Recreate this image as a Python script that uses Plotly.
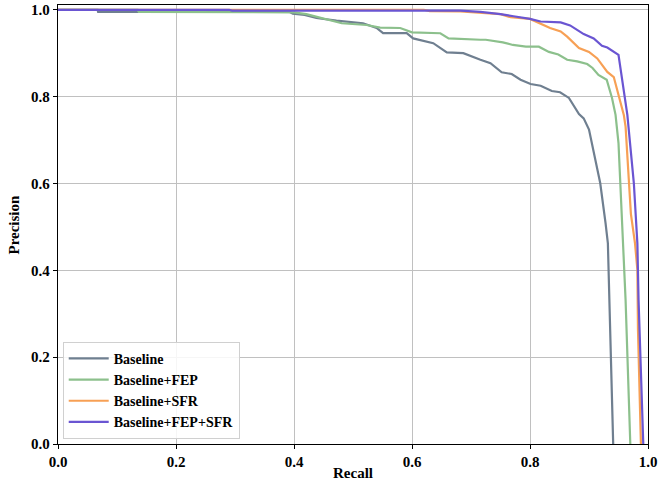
import plotly.graph_objects as go

# ---- data ----
names = ["Baseline", "Baseline+FEP", "Baseline+SFR", "Baseline+FEP+SFR"]
colors = ["#6f7f90", "#8cc08c", "#f7a055", "#6a55d2"]

base_recall = [0.0, 0.067, 0.068, 0.393, 0.398, 0.418, 0.438, 0.472, 0.517, 0.540, 0.551, 0.591,
               0.602, 0.636, 0.659, 0.687, 0.716, 0.733, 0.752, 0.769, 0.784, 0.801, 0.818,
               0.837, 0.851, 0.866, 0.883, 0.891, 0.900, 0.908, 0.919, 0.928, 0.932, 0.941]
base_prec = [1.0, 1.0, 0.995, 0.995, 0.991, 0.988, 0.981, 0.975, 0.969, 0.958, 0.946, 0.946,
             0.934, 0.923, 0.902, 0.900, 0.885, 0.877, 0.856, 0.852, 0.839, 0.829, 0.825,
             0.813, 0.810, 0.797, 0.760, 0.750, 0.724, 0.670, 0.601, 0.509, 0.462, 0.0]

fep_recall = [0.0, 0.135, 0.137, 0.400, 0.421, 0.449, 0.481, 0.523, 0.546, 0.580, 0.600, 0.648,
              0.662, 0.716, 0.725, 0.754, 0.771, 0.793, 0.815, 0.832, 0.848, 0.863, 0.880,
              0.897, 0.906, 0.916, 0.930, 0.939, 0.945, 0.950, 0.953, 0.958, 0.962, 0.970]
fep_prec = [1.0, 1.0, 0.995, 0.994, 0.990, 0.981, 0.969, 0.965, 0.959, 0.958, 0.948, 0.946,
            0.934, 0.931, 0.931, 0.925, 0.919, 0.915, 0.915, 0.903, 0.897, 0.885, 0.881,
            0.875, 0.866, 0.850, 0.839, 0.797, 0.758, 0.693, 0.601, 0.447, 0.332, 0.0]

sfr_recall = [0.0, 0.620, 0.630, 0.682, 0.750, 0.767, 0.800, 0.815, 0.834, 0.852, 0.863, 0.883,
              0.900, 0.914, 0.931, 0.942, 0.950, 0.959, 0.962, 0.967, 0.971, 0.978, 0.982,
              0.983, 0.988]
sfr_prec = [1.0, 1.0, 0.997, 0.996, 0.990, 0.983, 0.979, 0.969, 0.958, 0.950, 0.938, 0.912,
            0.903, 0.888, 0.857, 0.845, 0.803, 0.758, 0.731, 0.601, 0.530, 0.462, 0.401,
            0.263, 0.0]

fs_recall = [0.0, 0.290, 0.295, 0.682, 0.716, 0.750, 0.772, 0.800, 0.818, 0.852, 0.868, 0.891,
             0.908, 0.922, 0.931, 0.950, 0.965, 0.970, 0.976, 0.982, 0.984, 0.992]
fs_prec = [1.0, 1.0, 0.998, 0.998, 0.995, 0.990, 0.985, 0.979, 0.973, 0.971, 0.964, 0.944,
           0.934, 0.917, 0.913, 0.896, 0.758, 0.693, 0.601, 0.462, 0.332, 0.0]

x_ticks = [0.0, 0.2, 0.4, 0.6, 0.8, 1.0]
y_ticks = [0.0, 0.2, 0.4, 0.6, 0.8, 1.0]
tick_text = ["0.0", "0.2", "0.4", "0.6", "0.8", "1.0"]
x_title = "Recall"
y_title = "Precision"

series = [(base_recall, base_prec), (fep_recall, fep_prec), (sfr_recall, sfr_prec), (fs_recall, fs_prec)]

FONT = "Liberation Serif"
bold_font = dict(family=FONT, size=15, color="black", weight="bold")

fig = go.Figure()
for (rx, py), name, col in zip(series, names, colors):
    fig.add_trace(go.Scatter(x=rx, y=py, mode="lines", name=name,
                             line=dict(color=col, width=2.2)))

axis_common = dict(
    showgrid=True, gridcolor="#c0c0c0", gridwidth=1.3,
    showline=True, linecolor="black", linewidth=1.3, mirror=True,
    ticks="outside", ticklen=4, tickcolor="black", tickwidth=1.2,
    zeroline=False, automargin=False,
    tickfont=bold_font,
)

fig.update_xaxes(range=[0, 1], tickvals=x_ticks, ticktext=tick_text, **axis_common)
fig.update_yaxes(range=[0, 1.011], tickvals=y_ticks, ticktext=tick_text, **axis_common)

fig.add_annotation(text=x_title, xref="paper", yref="paper", x=0.5, y=0,
                   xanchor="center", yanchor="top", yshift=-19, showarrow=False,
                   font=bold_font)
fig.add_annotation(text=y_title, xref="paper", yref="paper", x=0, y=0.5,
                   xanchor="right", yanchor="middle", xshift=-35, textangle=-90,
                   showarrow=False, font=bold_font)

fig.update_layout(
    width=659, height=482,
    margin=dict(l=58, r=11, t=5, b=38, autoexpand=False),
    plot_bgcolor="white", paper_bgcolor="white",
    showlegend=True,
    legend=dict(x=0.008, y=0.012, xanchor="left", yanchor="bottom",
                bgcolor="rgba(255,255,255,0.85)", bordercolor="#d0d0d0", borderwidth=1,
                font=dict(family=FONT, size=14, color="black", weight="bold"),
                tracegroupgap=0, itemwidth=40),
)

fig.write_html("out.html", config={"displayModeBar": False},
               post_script="document.body.style.margin='0px';document.body.style.padding='0px';")
